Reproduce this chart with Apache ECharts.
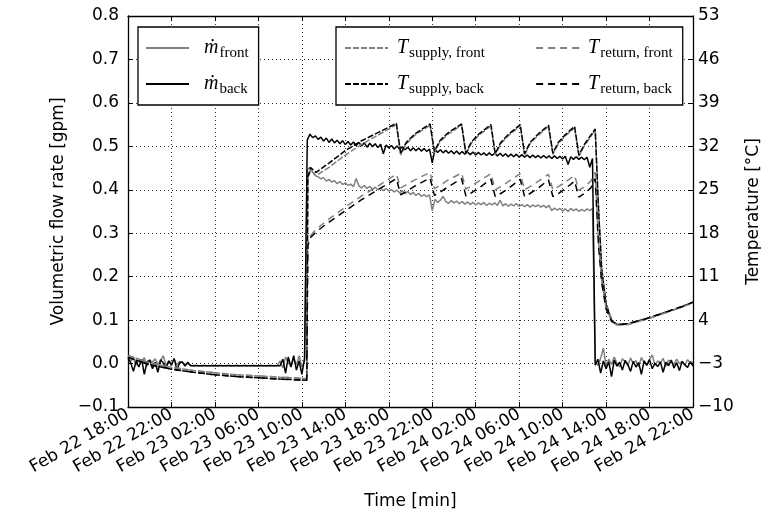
<!DOCTYPE html>
<html>
<head>
<meta charset="utf-8">
<script src="https://cdn.jsdelivr.net/npm/echarts@6.0.0/dist/echarts.min.js"></script>
<style>
  html, body { margin: 0; background: #fff; }
  #chart { width: 761px; height: 517px; }
</style>
</head>
<body>
<div id="chart"></div>
<script>
// hours after Feb 22 18:00; x ticks every 4 h
const xTicks = { min: 0, max: 52, interval: 4 }
const flowStep = 0.25 // sampling interval of the flow arrays [h]

// volumetric flow rate [gpm]
const flowFront = [
  0.015, 0.006, 0.012, -0.004, 0.009, 0.002, 0.014, -0.006, 0.008, 0.003,
  0.011, -0.002, 0.007, 0.018, -0.005, 0.006, 0.001, 0.010, -0.003, 0.005,
  0.002, -0.003, 0.001, -0.004, -0.005, -0.004, -0.005, -0.005, -0.004, -0.005,
  -0.005, -0.004, -0.005, -0.005, -0.004, -0.005, -0.005, -0.004, -0.005, -0.005,
  -0.004, -0.005, -0.005, -0.004, -0.005, -0.005, -0.004, -0.005, -0.005, -0.004,
  -0.005, -0.005, -0.004, -0.005, -0.005, -0.004, 0.006, -0.010, 0.015, 0.002,
  -0.006, 0.012, -0.003, 0.018, -0.008, 0.006,
  0.445, 0.452, 0.440, 0.432, 0.430, 0.425, 0.428, 0.420, 0.424, 0.418,
  0.421, 0.414, 0.419, 0.412, 0.416, 0.410, 0.413, 0.407, 0.426, 0.409,
  0.404, 0.410, 0.403, 0.408, 0.401, 0.406, 0.400, 0.404, 0.398, 0.403,
  0.397, 0.400, 0.395, 0.399, 0.393, 0.398, 0.391, 0.396, 0.389, 0.394,
  0.387, 0.392, 0.385, 0.389, 0.384, 0.388, 0.352, 0.378, 0.371, 0.376,
  0.385, 0.373, 0.369, 0.375, 0.370, 0.374, 0.368, 0.373, 0.367, 0.372,
  0.366, 0.371, 0.365, 0.370, 0.366, 0.371, 0.364, 0.369, 0.365, 0.370,
  0.364, 0.376, 0.363, 0.368, 0.362, 0.367, 0.363, 0.368, 0.362, 0.366,
  0.361, 0.366, 0.360, 0.365, 0.361, 0.365, 0.360, 0.364, 0.359, 0.364,
  0.352, 0.358, 0.353, 0.357, 0.351, 0.356, 0.350, 0.357, 0.352, 0.356,
  0.350, 0.355, 0.351, 0.356, 0.352, 0.357,
  0.005, -0.004, 0.012, 0.036, -0.006, 0.010, -0.002, 0.015, 0.001, -0.008,
  0.011, 0.004, -0.005, 0.013, 0.000, 0.007, -0.007, 0.014, 0.002, -0.003,
  0.009, 0.020, -0.004, 0.006, 0.001, 0.012, -0.006, 0.008, 0.003, -0.002,
  0.010, 0.000, 0.005, -0.004, 0.009, 0.002, 0.004
]
const flowBack = [
  0.012, 0.002, -0.018, 0.006, -0.008, 0.010, -0.025, 0.004, 0.008, -0.012,
  0.003, -0.020, 0.009, 0.001, -0.010, 0.006, -0.004, 0.012, -0.015, 0.002,
  0.004, -0.006, 0.003, -0.005, -0.005, -0.005, -0.005, -0.005, -0.005, -0.005,
  -0.005, -0.005, -0.005, -0.005, -0.005, -0.005, -0.005, -0.005, -0.005, -0.005,
  -0.005, -0.005, -0.005, -0.005, -0.005, -0.005, -0.005, -0.005, -0.005, -0.005,
  -0.005, -0.005, -0.005, -0.005, -0.005, -0.005, -0.005, 0.010, -0.022, 0.015,
  -0.008, 0.018, -0.015, 0.006, -0.025, 0.012,
  0.515, 0.528, 0.520, 0.524, 0.516, 0.521, 0.512, 0.519, 0.509, 0.517,
  0.508, 0.514, 0.506, 0.513, 0.504, 0.511, 0.503, 0.510, 0.502, 0.509,
  0.501, 0.508, 0.498, 0.507, 0.499, 0.506, 0.497, 0.505, 0.483, 0.503,
  0.496, 0.502, 0.494, 0.501, 0.493, 0.499, 0.492, 0.498, 0.490, 0.497,
  0.490, 0.496, 0.489, 0.495, 0.488, 0.494, 0.462, 0.493, 0.486, 0.492,
  0.485, 0.491, 0.484, 0.490, 0.483, 0.489, 0.482, 0.488, 0.482, 0.487,
  0.481, 0.487, 0.480, 0.486, 0.480, 0.485, 0.479, 0.485, 0.479, 0.484,
  0.478, 0.484, 0.477, 0.483, 0.476, 0.482, 0.476, 0.482, 0.475, 0.481,
  0.475, 0.480, 0.474, 0.480, 0.474, 0.479, 0.473, 0.479, 0.473, 0.478,
  0.472, 0.478, 0.472, 0.477, 0.471, 0.477, 0.458, 0.476, 0.470, 0.476,
  0.470, 0.475, 0.469, 0.475, 0.452, 0.472,
  -0.004, 0.010, -0.022, 0.006, -0.012, 0.004, -0.030, 0.008, -0.006, 0.003,
  -0.015, 0.007, -0.002, -0.018, 0.005, -0.008, 0.002, -0.025, 0.006, -0.004,
  0.009, -0.012, 0.001, -0.007, 0.004, -0.020, 0.003, -0.005, 0.008, -0.010,
  0.002, -0.016, 0.005, -0.003, -0.009, 0.004, -0.006
]

// temperatures [°C], sampled at tempTimes [h]
const tempTimes = [
  0, 2, 4, 6, 8, 10, 12, 14, 16.45, 16.55, 16.8, 17.3, 18.5, 20, 21.5, 23,
  24.7, 25.1, 25.6, 26.4, 27.8, 28.2, 28.7, 29.4, 30.7, 31.1, 31.6, 32.3,
  33.4, 33.8, 34.3, 35, 36.1, 36.5, 37, 37.7, 38.7, 39.1, 39.6, 40.2,
  41.1, 41.5, 42, 42.6, 43.0,
  43.3, 43.6, 44, 44.5, 45, 46, 47, 48, 49, 50, 51, 52
]
const supplyFront = [
  -1.7, -2.9, -3.6, -4.1, -4.5, -4.8, -5.0, -5.2, -5.4, 26.5, 28.2, 27.3, 28.6, 30.6, 32.3, 33.8,
  35.5, 30.6, 32.4, 33.8, 35.4, 31.0, 32.7, 33.9, 35.4, 30.7, 32.5, 33.8,
  35.3, 30.6, 32.4, 33.7, 35.3, 30.6, 32.4, 33.7, 35.2, 30.7, 32.4, 33.6,
  35.0, 30.4, 32.1, 33.6, 34.6,
  22.5, 12.5, 6.8, 4.1, 3.2, 3.3, 3.8, 4.3, 4.9, 5.5, 6.1, 6.8
]
const supplyBack = [
  -2.0, -3.2, -3.9, -4.4, -4.8, -5.1, -5.3, -5.5, -5.7, 27.0, 28.6, 27.8, 29.3, 31.3, 32.9, 34.2,
  35.7, 30.8, 32.6, 34.0, 35.6, 31.2, 32.9, 34.1, 35.6, 30.9, 32.7, 34.0,
  35.5, 30.8, 32.6, 33.9, 35.5, 30.8, 32.6, 33.9, 35.4, 30.9, 32.6, 33.8,
  35.2, 30.6, 32.3, 33.8, 34.8,
  22.0, 12.0, 6.5, 4.0, 3.3, 3.4, 3.9, 4.4, 5.0, 5.6, 6.2, 6.9
]
const returnFront = [
  -1.7, -2.9, -3.6, -4.1, -4.5, -4.8, -5.0, -5.2, -5.4, 16.5, 17.6, 18.6, 20.3, 22.2, 24.0, 25.6,
  27.5, 25.3, 25.8, 26.6, 27.8, 25.2, 25.7, 26.5, 27.7, 25.1, 25.6, 26.4,
  27.6, 25.0, 25.5, 26.3, 27.6, 25.0, 25.5, 26.3, 27.5, 25.0, 25.5, 26.2,
  27.3, 24.9, 25.5, 26.4, 27.8,
  16.5, 10.3, 6.0, 3.9, 3.2, 3.3, 3.8, 4.3, 4.9, 5.5, 6.1, 6.8
]
const returnBack = [
  -2.0, -3.2, -3.9, -4.4, -4.8, -5.1, -5.3, -5.5, -5.7, 16.0, 17.3, 18.2, 19.8, 21.6, 23.4, 25.0,
  26.8, 24.2, 24.7, 25.6, 26.9, 24.1, 24.6, 25.4, 26.8, 24.0, 24.5, 25.3,
  26.7, 23.9, 24.4, 25.2, 26.7, 23.9, 24.4, 25.2, 26.6, 23.9, 24.4, 25.1,
  26.4, 23.8, 24.4, 25.3, 26.8,
  16.0, 10.0, 5.8, 3.8, 3.3, 3.4, 3.9, 4.4, 5.0, 5.6, 6.2, 6.9
]

const flowAxis = { min: -0.1, max: 0.8, interval: 0.1 }
const tempAxis = { min: -10, max: 53, interval: 7 }

const GRAY = '#808080'
const FONT = 'DejaVu Sans'
const SERIF = 'Liberation Serif'
const MINUS = '\u2212'

function timeLabel(h) {
  const t = 18 + h
  const day = 22 + Math.floor(t / 24)
  const hr = t % 24
  return 'Feb ' + day + ' ' + String(hr).padStart(2, '0') + ':00'
}

const legendText = {
  mFront: '{m|ṁ}{sub|front}',
  mBack: '{m|ṁ}{sub|back}',
  supplyFront: '{T|T}{subA|supply, front}',
  supplyBack: '{T|T}{subA|supply, back}',
  returnFront: '{T|T}{sub|return, front}',
  returnBack: '{T|T}{sub|return, back}'
}

const legendRich = {
  m: { fontFamily: SERIF, fontStyle: 'italic', fontSize: 20, lineHeight: 22, padding: [0, 0, 0, 10] },
  T: { fontFamily: SERIF, fontStyle: 'italic', fontSize: 20, lineHeight: 22, padding: [0, 0, 0, 4] },
  sub: { fontFamily: SERIF, fontSize: 15, lineHeight: 15, padding: [11, 0, 0, 1] },
  subA: { fontFamily: SERIF, fontSize: 15, lineHeight: 15, padding: [11, 0, 0, 1], width: 116 }
}

function flowSeries(name, values, color) {
  return {
    name: name,
    type: 'line',
    xAxisIndex: 0,
    yAxisIndex: 0,
    symbol: 'none',
    silent: true,
    lineStyle: { color: color, width: 1.5 },
    itemStyle: { color: color },
    data: values.map((v, i) => [i * flowStep, v])
  }
}

function tempSeries(name, values, color, dash) {
  return {
    name: name,
    type: 'line',
    xAxisIndex: 0,
    yAxisIndex: 1,
    symbol: 'none',
    silent: true,
    lineStyle: { color: color, width: 1.5, type: dash },
    itemStyle: { color: color },
    data: values.map((v, i) => [tempTimes[i], v])
  }
}

const legendBase = {
  orient: 'vertical',
  itemWidth: 43,
  itemHeight: 14,
  itemGap: 10,
  borderColor: '#000',
  borderWidth: 1.3,
  backgroundColor: '#fff',
  selectedMode: false,
  itemStyle: { opacity: 0, borderWidth: 0 },
  formatter: name => legendText[name],
  textStyle: { color: '#000', rich: legendRich }
}

const axisLine = { show: true, onZero: false, lineStyle: { color: '#000', width: 1.3 } }
const axisTick = { show: true, inside: true, length: 5, lineStyle: { color: '#000', width: 1 } }
const gridLine = { show: true, lineStyle: { color: '#333', width: 1, type: [1, 3] } }
const tickFont = { color: '#000', fontFamily: FONT, fontSize: 17 }

const option = {
  animation: false,
  backgroundColor: '#fff',
  grid: { left: 128, right: 68, top: 16, bottom: 110, outerBoundsMode: 'none' },
  legend: [
    Object.assign({}, legendBase, {
      data: ['mFront', 'mBack'],
      left: 138,
      top: 27,
      padding: [8, 10, 8, 7]
    }),
    Object.assign({}, legendBase, {
      data: ['supplyFront', 'supplyBack', 'returnFront', 'returnBack'],
      left: 336,
      top: 27,
      height: 62,
      padding: [8, 10, 8, 8]
    })
  ],
  xAxis: [
    {
      type: 'value',
      position: 'bottom',
      min: xTicks.min,
      max: xTicks.max,
      interval: xTicks.interval,
      name: 'Time [min]',
      nameLocation: 'middle',
      nameGap: 86,
      nameTextStyle: tickFont,
      axisLine: axisLine,
      axisTick: axisTick,
      splitLine: gridLine,
      axisLabel: Object.assign({}, tickFont, {
        rotate: 30,
        margin: 6,
        showMinLabel: true,
        showMaxLabel: true,
        formatter: timeLabel
      })
    },
    {
      type: 'value',
      position: 'top',
      min: xTicks.min,
      max: xTicks.max,
      interval: xTicks.interval,
      axisLine: axisLine,
      axisTick: axisTick,
      splitLine: { show: false },
      axisLabel: { show: false }
    }
  ],
  yAxis: [
    {
      type: 'value',
      position: 'left',
      min: flowAxis.min,
      max: flowAxis.max,
      interval: flowAxis.interval,
      name: 'Volumetric flow rate [gpm]',
      nameLocation: 'middle',
      nameRotate: 90,
      nameGap: 60,
      nameTextStyle: tickFont,
      axisLine: axisLine,
      axisTick: axisTick,
      splitLine: gridLine,
      axisLabel: Object.assign({}, tickFont, {
        margin: 9,
        formatter: v => (v < -1e-9 ? MINUS : '') + Math.abs(v).toFixed(1)
      })
    },
    {
      type: 'value',
      position: 'right',
      min: tempAxis.min,
      max: tempAxis.max,
      interval: tempAxis.interval,
      name: 'Temperature [°C]',
      nameLocation: 'middle',
      nameRotate: 90,
      nameGap: 48,
      nameTextStyle: tickFont,
      axisLine: axisLine,
      axisTick: axisTick,
      splitLine: { show: false },
      axisLabel: Object.assign({}, tickFont, {
        margin: 5,
        formatter: v => (v < 0 ? MINUS + Math.abs(v) : String(v))
      })
    }
  ],
  series: [
    flowSeries('mFront', flowFront, GRAY),
    flowSeries('mBack', flowBack, '#000'),
    tempSeries('supplyFront', supplyFront, GRAY, [6, 2]),
    tempSeries('supplyBack', supplyBack, '#000', [6, 2]),
    tempSeries('returnFront', returnFront, GRAY, [7, 5]),
    tempSeries('returnBack', returnBack, '#000', [7, 5])
  ]
}

const chart = echarts.init(document.getElementById('chart'))
chart.setOption(option)
</script>
</body>
</html>
